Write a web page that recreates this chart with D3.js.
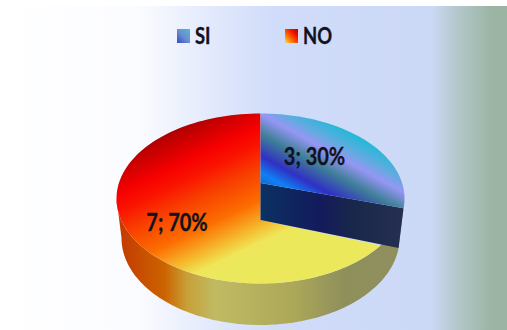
<!DOCTYPE html>
<html>
<head>
<meta charset="utf-8">
<script src="https://cdn.jsdelivr.net/npm/d3@7"></script>
<style>
html,body{margin:0;padding:0;background:#fff}
svg{display:block}
text{font-family:Lato,"Open Sans",sans-serif;font-weight:bold;fill:#10131f;stroke:#10131f;stroke-width:.35}
</style>
</head>
<body>
<svg id="chart" width="507" height="330"></svg>
<script>
// Chart values
const categories = ["SI", "NO"];
const counts = [3, 7];
const percents = [30, 70];

// Colour ramps
const backgroundStops = [[0, "#ffffff"], [0.27, "#fbfcff"], [0.42, "#e2e9fc"], [0.54, "#d0dcfa"], [0.85, "#ccd9f6"], [0.9, "#b4c8cc"], [0.97, "#9bb4a3"], [1, "#9bb4a3"]];
const siStops = [[0, "#0f6ee0"], [0.1, "#0f80f4"], [0.27, "#3030c4"], [0.5, "#3f7f98"], [0.7, "#9696f4"], [0.82, "#64aae0"], [1, "#28b8d8"]];
const noStops = [[0, "#a00000"], [0.12, "#cc0000"], [0.25, "#f60000"], [0.36, "#fa1400"], [0.5, "#f84000"], [0.68, "#fc6c00"], [0.84, "#f5bc30"], [0.93, "#efe65a"], [1, "#ece85c"]];
const rimStops = [[0, "#c43a00"], [0.16, "#cc6400"], [0.24, "#c8a038"], [0.34, "#c0ba62"], [0.62, "#aca858"], [0.8, "#8f8f5c"], [1, "#90905e"]];
const innerStops = [[0, "#0a3262"], [0.42, "#141a5c"], [0.65, "#18284a"], [1, "#262f52"]];

const svg = d3.select("#chart");
const defs = svg.append("defs");

function gradient(id, stops, x1, y1, x2, y2, units) {
  const g = defs.append("linearGradient").attr("id", id)
    .attr("gradientUnits", units || "userSpaceOnUse")
    .attr("x1", x1).attr("y1", y1).attr("x2", x2).attr("y2", y2);
  g.selectAll("stop").data(stops).join("stop")
    .attr("offset", d => d[0]).attr("stop-color", d => d[1]);
}

gradient("bg", backgroundStops, 0, 0, 507, 0);
gradient("si", siStops, 262, 183, 303, 108);
gradient("no", noStops, 140, 140, 207, 280);
gradient("rim", rimStops, 120, 0, 400, 0);
gradient("inner", innerStops, 260, 0, 404, 0);
gradient("siKey", [[0, "#2a4cd0"], [0.5, "#6f8ecc"], [1, "#48bce0"]], 0, 1, 1, 0, "objectBoundingBox");
gradient("noKey", [[0, "#f4e458"], [0.35, "#fc7000"], [0.7, "#f01000"], [1, "#b00000"]], 0, 1, 1, 0, "objectBoundingBox");

svg.append("rect").attr("x", 0).attr("y", 6).attr("width", 507).attr("height", 324).attr("fill", "url(#bg)");

// Tilted disc: an upper ellipse, a slightly narrower lower one for the rim
const upper = { cx: 260.5, cy: 198.5, rx: 144, ry: 85 };
const lower = { cx: 260.5, cy: 238, rx: 139, ry: 87 };
const siHub = { x: 260.5, y: 183 };
const noHub = { x: 260.5, y: 220 };

const slices = d3.pie().sort(null).startAngle(0).endAngle(2 * Math.PI)(counts);
const [si, no] = slices;

// Perspective shifts where each slice edge lands on the ellipse
const deg = Math.PI / 180;
const siEnd = si.endAngle * 0.895;
const noAngle = d3.scaleLinear().domain([no.startAngle, no.endAngle]).range([no.startAngle + 15.6 * deg, no.endAngle]);

const onEllipse = (e, t) => [e.cx + e.rx * Math.sin(t), e.cy - e.ry * Math.cos(t)];
const arcPoints = (e, a, b) => d3.range(0, 121).map(i => onEllipse(e, a + (b - a) * i / 120));
const line = d3.line();

// Outer rim, from the SI edge round to the far left
svg.append("path")
  .attr("d", line([...arcPoints(upper, siEnd, 1.5 * Math.PI), ...arcPoints(lower, 1.5 * Math.PI, siEnd)]) + "Z")
  .attr("fill", "url(#rim)");

// NO surface
svg.append("path")
  .attr("d", line([[noHub.x, noHub.y], ...arcPoints(upper, noAngle(no.startAngle), noAngle(no.endAngle))]) + "Z")
  .attr("fill", "url(#no)");

// Cut face under the SI slice
svg.append("path")
  .attr("d", line([[siHub.x, siHub.y], onEllipse(upper, siEnd), onEllipse(lower, siEnd), [noHub.x, noHub.y]]) + "Z")
  .attr("fill", "url(#inner)");

// SI surface
svg.append("path")
  .attr("d", line([[siHub.x, siHub.y], ...arcPoints(upper, si.startAngle, siEnd)]) + "Z")
  .attr("fill", "url(#si)");

// Value labels, set condensed
const labelAt = [[314.5, 165], [177, 231]];
svg.selectAll("text.value").data(slices).join("text")
  .attr("class", "value")
  .attr("transform", (d, i) => `translate(${labelAt[i][0]},${labelAt[i][1]}) scale(0.8,1)`)
  .attr("text-anchor", "middle").attr("font-size", 25)
  .text((d, i) => `${counts[i]}; ${percents[i]}%`);

// Legend
const keyX = d3.scalePoint().domain(categories).range([177, 285]);
const key = svg.selectAll("g.key").data(categories).join("g")
  .attr("class", "key").attr("transform", d => `translate(${keyX(d)},29)`);
key.append("rect").attr("width", 13).attr("height", 14)
  .attr("fill", (d, i) => i === 0 ? "url(#siKey)" : "url(#noKey)");
key.append("text").attr("transform", "translate(18,15) scale(0.8,1)").attr("font-size", 23).text(d => d);
</script>
</body>
</html>
